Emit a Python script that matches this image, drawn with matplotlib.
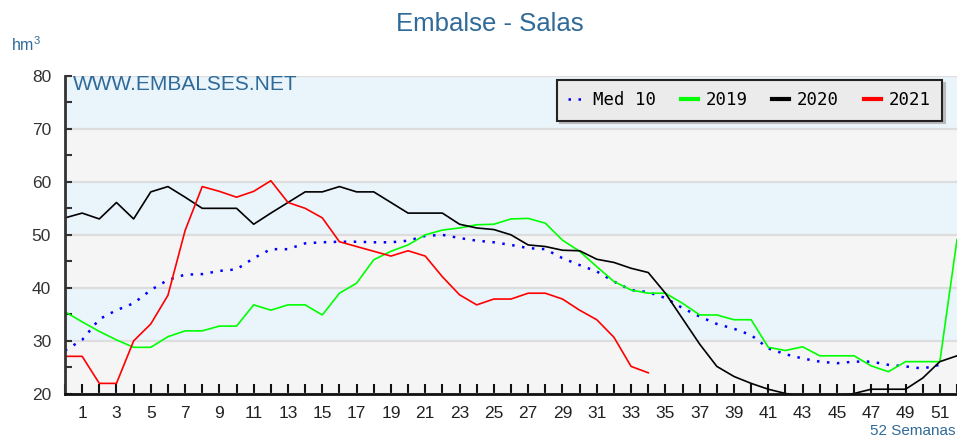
import matplotlib
matplotlib.use("Agg")
import matplotlib.pyplot as plt
from matplotlib.ticker import MultipleLocator

plt.rcParams['font.family'] = ['Liberation Sans', 'DejaVu Sans']
plt.rcParams['mathtext.fontset'] = 'custom'
plt.rcParams['mathtext.rm'] = 'Liberation Sans'

# weekly reservoir volume (hm3), week 0..52
med10 = [28.2, 30.2, 34.1, 35.8, 37.1, 39.6, 41.5, 42.5, 42.6, 43.2, 43.5, 45.6,
         47.3, 47.3, 48.4, 48.6, 48.7, 48.7, 48.6, 48.6, 48.9, 49.8, 50.0, 49.4,
         48.9, 48.6, 48.1, 47.5, 47.3, 45.6, 44.3, 43.1, 41.2, 39.6, 39.2, 38.1,
         36.2, 34.6, 33.2, 32.3, 31.1, 28.6, 27.5, 26.7, 26.1, 25.8, 26.1, 26.1,
         25.5, 25.2, 24.8, 25.5]
y2019 = [35.5, 33.6, 31.8, 30.2, 28.8, 28.8, 30.8, 31.9, 31.9, 32.8, 32.8, 36.8,
         35.8, 36.8, 36.8, 34.9, 39.0, 40.9, 45.3, 46.9, 48.1, 50.0, 50.9, 51.3,
         51.9, 52.0, 53.0, 53.1, 52.2, 49.0, 46.9, 44.0, 41.2, 39.6, 39.0, 39.0,
         37.1, 34.9, 34.9, 34.0, 34.0, 28.8, 28.2, 28.9, 27.2, 27.2, 27.2, 25.3,
         24.2, 26.1, 26.1, 26.1, 49.1]
y2020 = [53.2, 54.1, 53.0, 56.1, 53.0, 58.1, 59.1, 57.1, 55.0, 55.0, 55.0, 52.0,
         54.1, 56.1, 58.1, 58.1, 59.1, 58.1, 58.1, 56.1, 54.1, 54.1, 54.1, 52.0,
         51.3, 51.0, 50.0, 48.1, 47.8, 47.1, 47.0, 45.4, 44.8, 43.7, 42.9, 39.0,
         34.2, 29.4, 25.2, 23.3, 22.0, 20.9, 20.1, 19.6, 19.4, 19.6, 20.1, 20.9,
         20.9, 20.9, 23.0, 26.1, 27.2]
y2021 = [27.1, 27.1, 22.0, 22.0, 30.0, 33.2, 38.6, 50.8, 59.1, 58.2, 57.1, 58.2,
         60.2, 56.1, 55.0, 53.2, 48.7, 47.8, 46.9, 46.0, 47.0, 46.0, 42.1, 38.7,
         36.8, 37.9, 37.9, 39.0, 39.0, 37.9, 35.8, 34.0, 30.7, 25.2, 24.0]
labels = ['Med 10', '2019', '2020', '2021']
colors = ['#0000FF', '#00FF00', '#000000', '#FF0000']

blue_txt = '#2F6A98'

fig = plt.figure(figsize=(9.57, 4.37), dpi=100)
ax = fig.add_axes([65/957, 1-394/437, (957-65)/957, (394-75.7)/437])

# alternating bands
for i, lo in enumerate(range(20, 80, 10)):
    ax.axhspan(lo, lo+10, color='#F5F5F5' if i % 2 == 0 else '#EAF4FB', zorder=0, lw=0)
ax.set_axisbelow(True)
ax.yaxis.grid(True, color='#DDDDDD', lw=1.6)

series = [med10, y2019, y2020, y2021]
lines = []
for vals, lab, c in zip(series, labels, colors):
    if lab == 'Med 10':
        ln, = ax.plot(range(len(vals)), vals, color=c, lw=1.8, linestyle=(0, (1, 3)), label=lab)
    else:
        ln, = ax.plot(range(len(vals)), vals, color=c, lw=1.2, label=lab)
    lines.append(ln)

ax.set_xlim(0, 52)
ax.set_ylim(20, 80)
ax.set_yticks(range(20, 81, 10))
ax.yaxis.set_minor_locator(MultipleLocator(5))
ax.set_xticks(range(1, 52, 2))
ax.xaxis.set_minor_locator(MultipleLocator(1))

for s in ['top', 'right']:
    ax.spines[s].set_visible(False)
ax.spines['left'].set_color('#333333')
ax.spines['left'].set_linewidth(2)
ax.spines['bottom'].set_color('#111111')
ax.spines['bottom'].set_linewidth(2)

ax.tick_params(axis='y', which='both', direction='in', length=5, width=1.5,
               color='#333333', labelsize=12.5, labelcolor='#333333', pad=10)
ax.tick_params(axis='x', which='both', direction='in', length=7, width=1.5,
               color='#111111', labelsize=12.5, labelcolor='#222222', pad=9)

ax.text(8/892, 0.971, 'WWW.EMBALSES.NET', transform=ax.transAxes,
        fontsize=15, color=blue_txt, va='center', ha='left')

leg = fig.legend(handles=lines, loc='upper right', bbox_to_anchor=(942/957, 1-80/437),
                 ncol=4, frameon=True, fancybox=False,
                 shadow={'color': '#BBBBBB', 'alpha': 1},
                 prop={'family': 'DejaVu Sans Mono', 'size': 12.5},
                 handlelength=1.0, handletextpad=0.45, columnspacing=1.4,
                 borderpad=0.65, borderaxespad=0)
leg.get_frame().set_facecolor('#EBEBEB')
leg.get_frame().set_edgecolor('#222222')
leg.get_frame().set_linewidth(1.5)
for h in leg.get_lines():
    if h.get_label() != 'Med 10':
        h.set_linewidth(3)

fig.text(490/957, 1-24/437, 'Embalse - Salas', ha='center', va='center',
         fontsize=18.5, color=blue_txt)
fig.text(11/957, 1-45/437, r'hm$^{\mathregular{3}}$', ha='left', va='center',
         fontsize=11.5, color=blue_txt)
fig.text(956/957, 1-431/437, '52 Semanas', ha='right', va='center',
         fontsize=11, color=blue_txt)

fig.savefig('out.png', dpi=100)
